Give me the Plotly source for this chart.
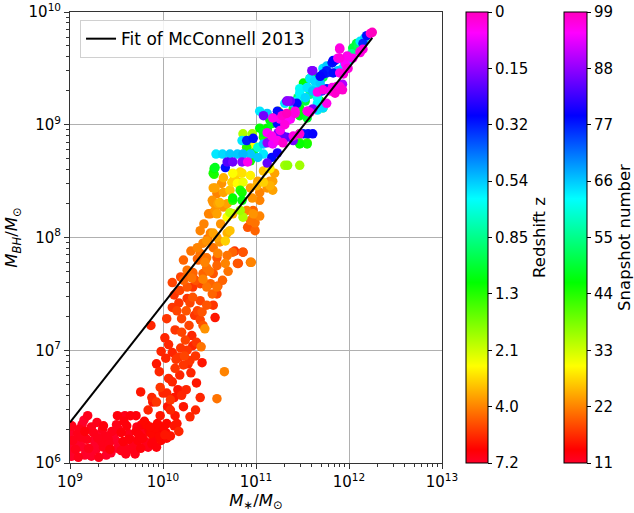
import plotly.graph_objects as go

# (log10 M*/Msun, log10 MBH/Msun, snapshot)
early_points = [
    (9.02,6.06,11),(9.09,6.05,12),(9.16,6.07,11),(9.23,6.06,11),(9.31,6.05,12),(9.39,6.07,11),
    (9.00,6.13,11),(9.06,6.12,12),(9.13,6.14,11),(9.20,6.13,12),(9.28,6.12,11),(9.36,6.14,12),
    (9.43,6.12,13),(9.51,6.13,11),(9.59,6.14,12),(9.67,6.12,12),(9.76,6.13,13),(9.84,6.14,12),
    (9.03,6.20,12),(9.10,6.19,11),(9.18,6.21,12),(9.26,6.20,11),(9.34,6.19,12),(9.41,6.21,12),
    (9.49,6.20,11),(9.57,6.19,13),(9.65,6.21,12),(9.73,6.20,13),(9.81,6.19,12),(9.90,6.21,13),
    (9.98,6.20,14),(10.04,6.22,14),
    (9.00,6.27,11),(9.08,6.26,12),(9.16,6.28,13),(9.25,6.27,12),(9.33,6.26,11),(9.45,6.28,12),
    (9.55,6.27,13),(9.63,6.26,12),(9.71,6.28,13),(9.79,6.27,12),(9.87,6.26,14),(9.95,6.28,13),
    (10.03,6.27,14),
    (9.02,6.33,12),(9.13,6.34,11),(9.23,6.32,12),(9.36,6.33,13),(9.50,6.34,12),(9.61,6.33,13),
    (9.72,6.32,12),(9.82,6.34,14),
    (9.19,6.42,12),(9.51,6.42,13),(9.59,6.42,12),(9.65,6.42,13),(9.71,6.42,13),
    (9.05,6.10,11),(9.12,6.23,12),(9.27,6.16,11),(9.38,6.24,12),(9.44,6.09,11),(9.52,6.30,12),
    (9.68,6.16,12),(9.74,6.25,13),(9.88,6.17,13),(9.96,6.24,14),(9.60,6.08,12),(9.35,6.30,12),
    (9.80,6.37,14),(9.92,6.31,14),
    (9.04,6.16,11),(9.10,6.30,12),(9.20,6.09,11),(9.30,6.22,12),(9.42,6.17,12),(9.47,6.24,11),
    (9.55,6.11,12),(9.63,6.21,13),(9.70,6.08,12),(9.78,6.22,13),(9.85,6.29,13),(9.93,6.14,13),
    (10.00,6.32,14),(10.08,6.24,15),(10.12,6.33,15),(10.17,6.28,16),(9.58,6.37,13),(9.29,6.36,12),
    (9.15,6.38,11),
]

rising_points = [
    (9.87,7.22,16),(10.04,7.28,17),(10.12,7.49,17),(10.02,7.11,16),(10.15,7.35,18),(10.25,7.35,19),
    (10.13,7.18,17),(10.20,7.16,18),(10.03,6.93,16),(9.93,6.88,15),(9.96,6.81,16),(10.13,6.84,17),
    (10.18,6.78,16),(9.97,6.67,17),(10.00,6.62,16),(9.76,6.63,15),(9.88,6.58,16),(9.93,6.54,17),
    (10.04,6.62,16),(10.08,6.56,17),(10.16,6.65,15),(10.25,6.65,16),(10.36,6.71,15),(10.58,6.57,21),
    (10.66,6.81,22),(10.35,6.47,16),(10.42,6.89,15),(10.29,6.91,17),(10.41,7.03,21),(10.32,7.04,16),
    (10.26,7.00,17),(10.23,6.95,18),(10.17,6.94,17),(10.24,7.09,18),(10.31,7.13,16),(10.36,7.07,17),
    (10.56,7.29,15),(10.45,7.19,23),(10.43,7.22,19),(10.40,7.27,18),(10.34,7.31,17),(10.42,7.34,19),
    (10.37,7.35,18),(10.47,7.40,19),(10.54,7.40,17),(10.40,7.44,18),(10.32,7.47,19),(10.26,7.46,17),
    (10.53,7.50,20),(10.58,7.50,18),(10.59,7.57,19),(10.47,7.56,21),(10.40,7.59,18),(10.32,7.56,17),
    (10.26,7.56,19),(10.19,7.65,18),(10.26,7.66,20),(10.32,7.68,19),(10.43,7.68,20),(10.54,7.68,19),
    (10.47,7.73,21),(10.58,7.75,20),(10.67,7.77,22),(10.38,7.80,20),(10.47,7.82,21),(10.58,7.82,19),
    (10.69,7.84,21),(10.81,7.77,18),(10.95,7.78,22),(10.75,7.87,20),(10.86,7.87,19),(10.40,6.58,16),
    (10.29,6.41,16),(10.22,6.50,15),(10.08,6.47,16),(10.13,6.42,15),(9.97,6.42,15),(10.15,6.35,15),
    (10.04,6.35,14),(9.94,6.35,14),(9.86,6.32,14),(9.77,6.34,13),(9.84,6.47,16),(9.89,6.54,15),
    (10.02,6.25,15),(10.10,6.98,16),(10.19,7.02,17),(10.28,7.22,18),(10.10,6.72,16),(10.22,6.87,17),
    (10.30,6.80,16),
    (10.06,6.75,16),(10.14,6.92,17),(10.06,7.05,16),(10.20,7.28,18),(10.10,7.38,17),(10.18,7.53,18),
    (10.12,6.58,15),(10.20,6.60,16),(10.29,7.42,18),(10.35,7.62,19),(10.22,7.80,20),(10.30,7.88,21),
    (10.27,6.88,16),(10.05,6.50,15),(9.98,6.99,16),(10.35,6.95,17),(10.10,7.60,18),(10.17,7.42,17),
]

middle_points = [
    (10.51,8.04,22),(10.48,7.99,21),(10.43,7.95,22),(10.58,8.00,24),(10.61,7.96,23),(10.67,7.97,27),
    (10.69,8.04,25),(10.72,8.06,26),(10.77,7.88,17),(10.86,7.87,18),(10.80,7.77,19),(10.94,7.78,21),
    (10.54,7.91,21),(10.59,7.86,22),(10.37,7.91,22),(10.40,7.86,21),(10.37,7.81,20),(10.45,7.78,22),
    (10.26,7.71,21),(10.32,7.69,20),(10.22,7.62,20),(10.31,7.64,21),(10.43,7.63,22),(10.51,7.59,20),
    (10.58,7.56,21),
    (10.54,8.31,23),(10.51,8.21,22),(10.58,8.21,24),(10.65,8.27,23),(10.69,8.18,30),(10.72,8.22,34),
    (10.90,8.24,22),(10.97,8.21,23),(11.04,8.19,22),(10.91,8.09,19),(10.99,8.06,20),(10.99,8.13,21),
    (10.54,8.44,24),(10.63,8.48,23),(10.58,8.39,22),(10.53,8.33,23),(10.59,8.30,24),(10.49,8.21,22),
    (10.56,8.24,23),(10.65,8.53,25),(10.74,8.49,27),(10.83,8.49,26),(10.75,8.57,30),(10.85,8.57,28),
    (10.94,8.55,29),(11.02,8.50,24),(11.12,8.44,23),(11.18,8.50,24),(11.04,8.40,22),(10.96,8.35,23),
    (11.04,8.33,22),(10.65,8.40,24),(10.97,8.24,20),(10.94,8.15,21),(10.69,8.30,24),(10.75,8.21,25),
    (10.40,8.06,22),(10.47,7.97,23),(10.54,8.04,24),(10.83,8.24,36),(10.86,8.18,35),(10.56,8.44,24),
    (10.72,8.42,26),(10.61,8.31,25),(10.80,8.48,30),(10.86,8.49,31),(10.94,8.44,24),(11.01,8.46,25),
    (11.08,8.49,27),(11.15,8.46,25),(11.18,8.42,24),(11.20,8.57,24),(11.15,8.50,23),(11.08,8.59,26),
    (11.15,8.61,29),(10.83,8.58,28),(10.77,8.53,27),(10.96,8.83,30),(10.90,8.80,27),
    (10.44,8.12,22),(10.62,8.12,23),(10.50,7.70,21),(10.64,7.62,20),(10.70,7.70,21),
]

late_points = [
    (10.57,8.74,64),(10.64,8.74,65),(10.72,8.74,66),(10.80,8.74,66),(10.86,8.74,67),(10.94,8.74,66),
    (10.69,8.67,84),(10.75,8.67,86),(10.85,8.67,88),(10.91,8.67,96),
    (10.67,8.62,78),(10.55,8.61,46),(10.55,8.56,44),(10.56,8.62,48),(10.54,8.57,45),
    (10.86,8.92,35),(10.96,8.92,36),
    (10.75,8.33,44),(10.85,8.40,45),(10.75,8.35,46),(10.85,8.33,47),(10.83,8.42,44),
    (11.12,8.96,46),(11.17,9.01,48),(11.23,9.04,50),(11.28,9.08,52),
    (11.26,8.92,80),(11.33,8.89,84),(11.40,8.86,86),
    (11.47,8.84,42),(11.55,8.84,40),(11.47,8.92,45),
    (11.31,8.64,36),(11.34,8.64,37),(11.47,8.64,36),
    (11.23,8.75,80),(11.17,8.71,78),(11.12,8.66,85),
    (11.02,8.71,66),(11.08,8.74,64),(10.97,8.75,50),(11.02,8.80,60),
    (11.12,8.84,88),(11.18,8.83,94),(11.23,8.86,96),(11.29,8.84,98),
    (10.94,8.68,45),(11.47,9.08,47),(11.55,9.06,49),(11.34,9.04,95),(11.42,9.10,97),
    (11.51,8.92,77),(11.56,8.92,78),(11.61,8.92,79),
    (11.47,8.83,46),(11.55,8.83,45),
    (11.26,8.95,96),(11.31,9.00,97),(11.37,9.05,95),(11.42,9.12,96),
    (11.33,9.10,99),(11.28,9.08,98),
    (11.15,9.06,47),(11.12,8.97,45),(11.08,8.89,44),
    (11.34,9.21,88),(11.31,9.19,64),(11.40,9.19,66),(11.45,9.24,52),(11.53,9.21,50),
    (11.23,9.12,78),(11.26,9.10,80),(11.56,9.12,88),(11.61,9.14,86),
    (11.66,9.29,96),(11.72,9.31,97),(11.80,9.30,95),
    (11.72,9.15,65),(11.66,9.19,63),
    (11.87,9.33,88),(11.93,9.36,90),(11.87,9.31,96),
    (11.58,9.41,48),(11.66,9.42,50),(11.72,9.42,52),
    (11.47,9.32,62),(11.55,9.33,64),(11.61,9.30,66),(11.44,9.21,62),
    (11.76,9.46,77),(11.83,9.46,78),(11.72,9.50,64),(11.76,9.52,66),(11.61,9.48,86),
    (11.82,9.55,78),(11.83,9.57,79),(11.88,9.59,96),(11.90,9.67,97),
    (11.94,9.57,64),(11.99,9.59,66),(11.98,9.50,96),(11.96,9.54,95),
    (12.04,9.68,50),(12.10,9.70,52),(12.14,9.72,54),(12.15,9.74,62),(12.17,9.77,66),
    (12.19,9.79,78),(12.23,9.81,98),(12.25,9.82,99),(11.99,9.50,97),
    (11.93,9.31,98),(11.90,9.34,97),(12.12,9.65,96),(12.15,9.67,97),
    (11.18,9.06,96),(11.23,9.01,78),(11.28,9.04,77),(11.04,8.97,46),(11.08,8.93,48),
    (11.12,8.93,95),(11.17,8.90,96),(11.24,8.93,86),(11.29,8.90,85),(11.40,8.90,97),(11.47,8.92,98),
    (11.04,9.12,64),(11.12,9.10,66),(11.08,9.08,86),(10.90,8.86,77),(10.97,8.88,78),
    (10.90,8.80,44),(10.85,8.86,64),(11.08,8.83,66),
    (12.12,9.74,64),(12.15,9.72,76),(12.06,9.68,47),(12.08,9.72,50),(11.90,9.68,96),(11.90,9.59,97),
    (11.98,9.61,96),(11.85,9.57,77),(11.82,9.55,78),(11.99,9.57,60),(12.03,9.63,55),(11.93,9.50,64),
    (11.88,9.48,66),(12.12,9.64,97),(12.04,9.59,96),(11.76,9.48,77),(11.72,9.45,78),(11.69,9.43,79),
    (11.60,9.48,87),(11.90,9.46,96),(11.94,9.45,97),(11.58,9.41,64),(11.63,9.39,65),(11.69,9.37,66),
    (11.51,9.37,46),(11.55,9.33,48),(11.63,9.32,64),(11.71,9.30,75),(11.76,9.32,77),(11.82,9.33,96),
    (11.87,9.34,97),(11.85,9.28,98),(11.47,9.28,63),(11.53,9.24,65),(11.58,9.27,55),(11.66,9.24,62),
    (11.69,9.21,46),(11.72,9.15,48),(11.76,9.19,96),(11.37,9.21,86),(11.44,9.19,78),(11.40,9.14,45),
    (11.47,9.15,47),(11.33,9.08,77),(11.26,9.05,96),(11.18,9.06,44),(11.15,9.04,46),(11.55,9.12,96),
    (11.58,9.11,97),(11.66,9.13,64),(11.24,9.12,33),(11.33,9.21,86),
]

# McConnell & Ma 2013 fit, end points
fit_mstar = [1.0e9, 1.78e12]
fit_mbh = [2.29e6, 5.9e9]

snap_ticks = [11, 22, 33, 44, 55, 66, 77, 88, 99]
redshift_labels = ["7.2", "4.0", "2.1", "1.3", "0.85", "0.54", "0.32", "0.15", "0"]

x_major = [1e9, 1e10, 1e11, 1e12, 1e13]
x_labels = ["10<sup>9</sup>", "10<sup>10</sup>", "10<sup>11</sup>", "10<sup>12</sup>", "10<sup>13</sup>"]
y_major = [1e6, 1e7, 1e8, 1e9, 1e10]
y_labels = ["10<sup>6</sup>", "10<sup>7</sup>", "10<sup>8</sup>", "10<sup>9</sup>", "10<sup>10</sup>"]

# gist_rainbow colormap
gist_rainbow = [
    (0.000, (1.00, 0.00, 0.16)), (0.030, (1.00, 0.00, 0.00)), (0.215, (1.00, 1.00, 0.00)),
    (0.400, (0.00, 1.00, 0.00)), (0.586, (0.00, 1.00, 1.00)), (0.770, (0.00, 0.00, 1.00)),
    (0.954, (1.00, 0.00, 1.00)), (1.000, (1.00, 0.00, 0.75)),
]
colorscale = [[p, "rgb(%d,%d,%d)" % tuple(round(255 * c) for c in rgb)] for p, rgb in gist_rainbow]

pts = sorted(early_points + rising_points + middle_points + late_points, key=lambda t: t[2])
xs = [10 ** p[0] for p in pts]
ys = [10 ** p[1] for p in pts]
cs = [p[2] for p in pts]

FONT = "DejaVu Sans"
TICK = 15
TITLE = 16.5
L, R, T, B = 70, 192, 12, 50
PW = 634 - L - R

fig = go.Figure()
fig.add_trace(go.Scatter(
    x=xs, y=ys, mode="markers", showlegend=False, hoverinfo="skip",
    marker=dict(size=9.5, color=cs, coloraxis="coloraxis", line=dict(width=0)),
))
fig.add_trace(go.Scatter(
    x=xs, y=ys, mode="markers", showlegend=False, hoverinfo="skip",
    marker=dict(size=9.5, color=cs, coloraxis="coloraxis2", opacity=0, line=dict(width=0)),
))
fig.add_trace(go.Scatter(
    x=fit_mstar, y=fit_mbh, mode="lines", name="Fit of McConnell 2013",
    line=dict(color="black", width=2),
))

minor_x = [k * 10 ** n for n in range(9, 13) for k in range(2, 10)]
minor_y = [k * 10 ** n for n in range(6, 10) for k in range(2, 10)]

axis_common = dict(
    type="log", showline=True, linecolor="#333", linewidth=1, mirror=True,
    ticks="outside", ticklen=5, tickcolor="#333", showgrid=True, gridcolor="#b0b0b0",
    gridwidth=0.8, zeroline=False, tickfont=dict(family=FONT, size=TICK, color="black"),
)


def cbar(x_px, thick, ticktext, title):
    return dict(
        xref="paper", yref="paper", x=(x_px - L) / PW, xanchor="left",
        y=0, yanchor="bottom", len=1, lenmode="fraction", xpad=0, ypad=0,
        thickness=thick, outlinecolor="black", outlinewidth=1,
        tickvals=snap_ticks, ticktext=ticktext,
        ticks="outside", ticklen=4, tickcolor="black", tickfont=dict(family=FONT, size=TICK),
        title=dict(text=title, side="right", font=dict(family=FONT, size=TITLE)),
    )


fig.update_layout(
    width=634, height=513,
    margin=dict(l=L, r=R, t=T, b=B, autoexpand=False),
    paper_bgcolor="white", plot_bgcolor="white",
    font=dict(family=FONT, size=TICK, color="black"),
    xaxis=dict(**axis_common, range=[9, 13], tickvals=x_major, ticktext=x_labels,
               minor=dict(tickvals=minor_x, ticks="outside", ticklen=3, tickcolor="#333", showgrid=False),
               title=dict(text="<i>M</i><sub>∗</sub>/<i>M</i><sub>⊙</sub>", font=dict(family=FONT, size=TITLE), standoff=2)),
    yaxis=dict(**axis_common, range=[6, 10], tickvals=y_major, ticktext=y_labels,
               minor=dict(tickvals=minor_y, ticks="outside", ticklen=3, tickcolor="#333", showgrid=False),
               title=dict(text="<i>M</i><sub><i>BH</i></sub>/<i>M</i><sub>⊙</sub>", font=dict(family=FONT, size=TITLE), standoff=6)),
    legend=dict(x=0.027, y=0.982, xanchor="left", yanchor="top", bgcolor="rgba(255,255,255,0.85)",
                bordercolor="#d0d0d0", borderwidth=1, font=dict(family=FONT, size=17)),
    coloraxis=dict(colorscale=colorscale, cmin=11, cmax=99,
                   colorbar=cbar(564, 23, [str(v) for v in snap_ticks], "Snapshot number")),
    coloraxis2=dict(colorscale=colorscale, cmin=11, cmax=99,
                    colorbar=cbar(466, 22, redshift_labels, "Redshift z")),
)

fig.write_html("out.html")
